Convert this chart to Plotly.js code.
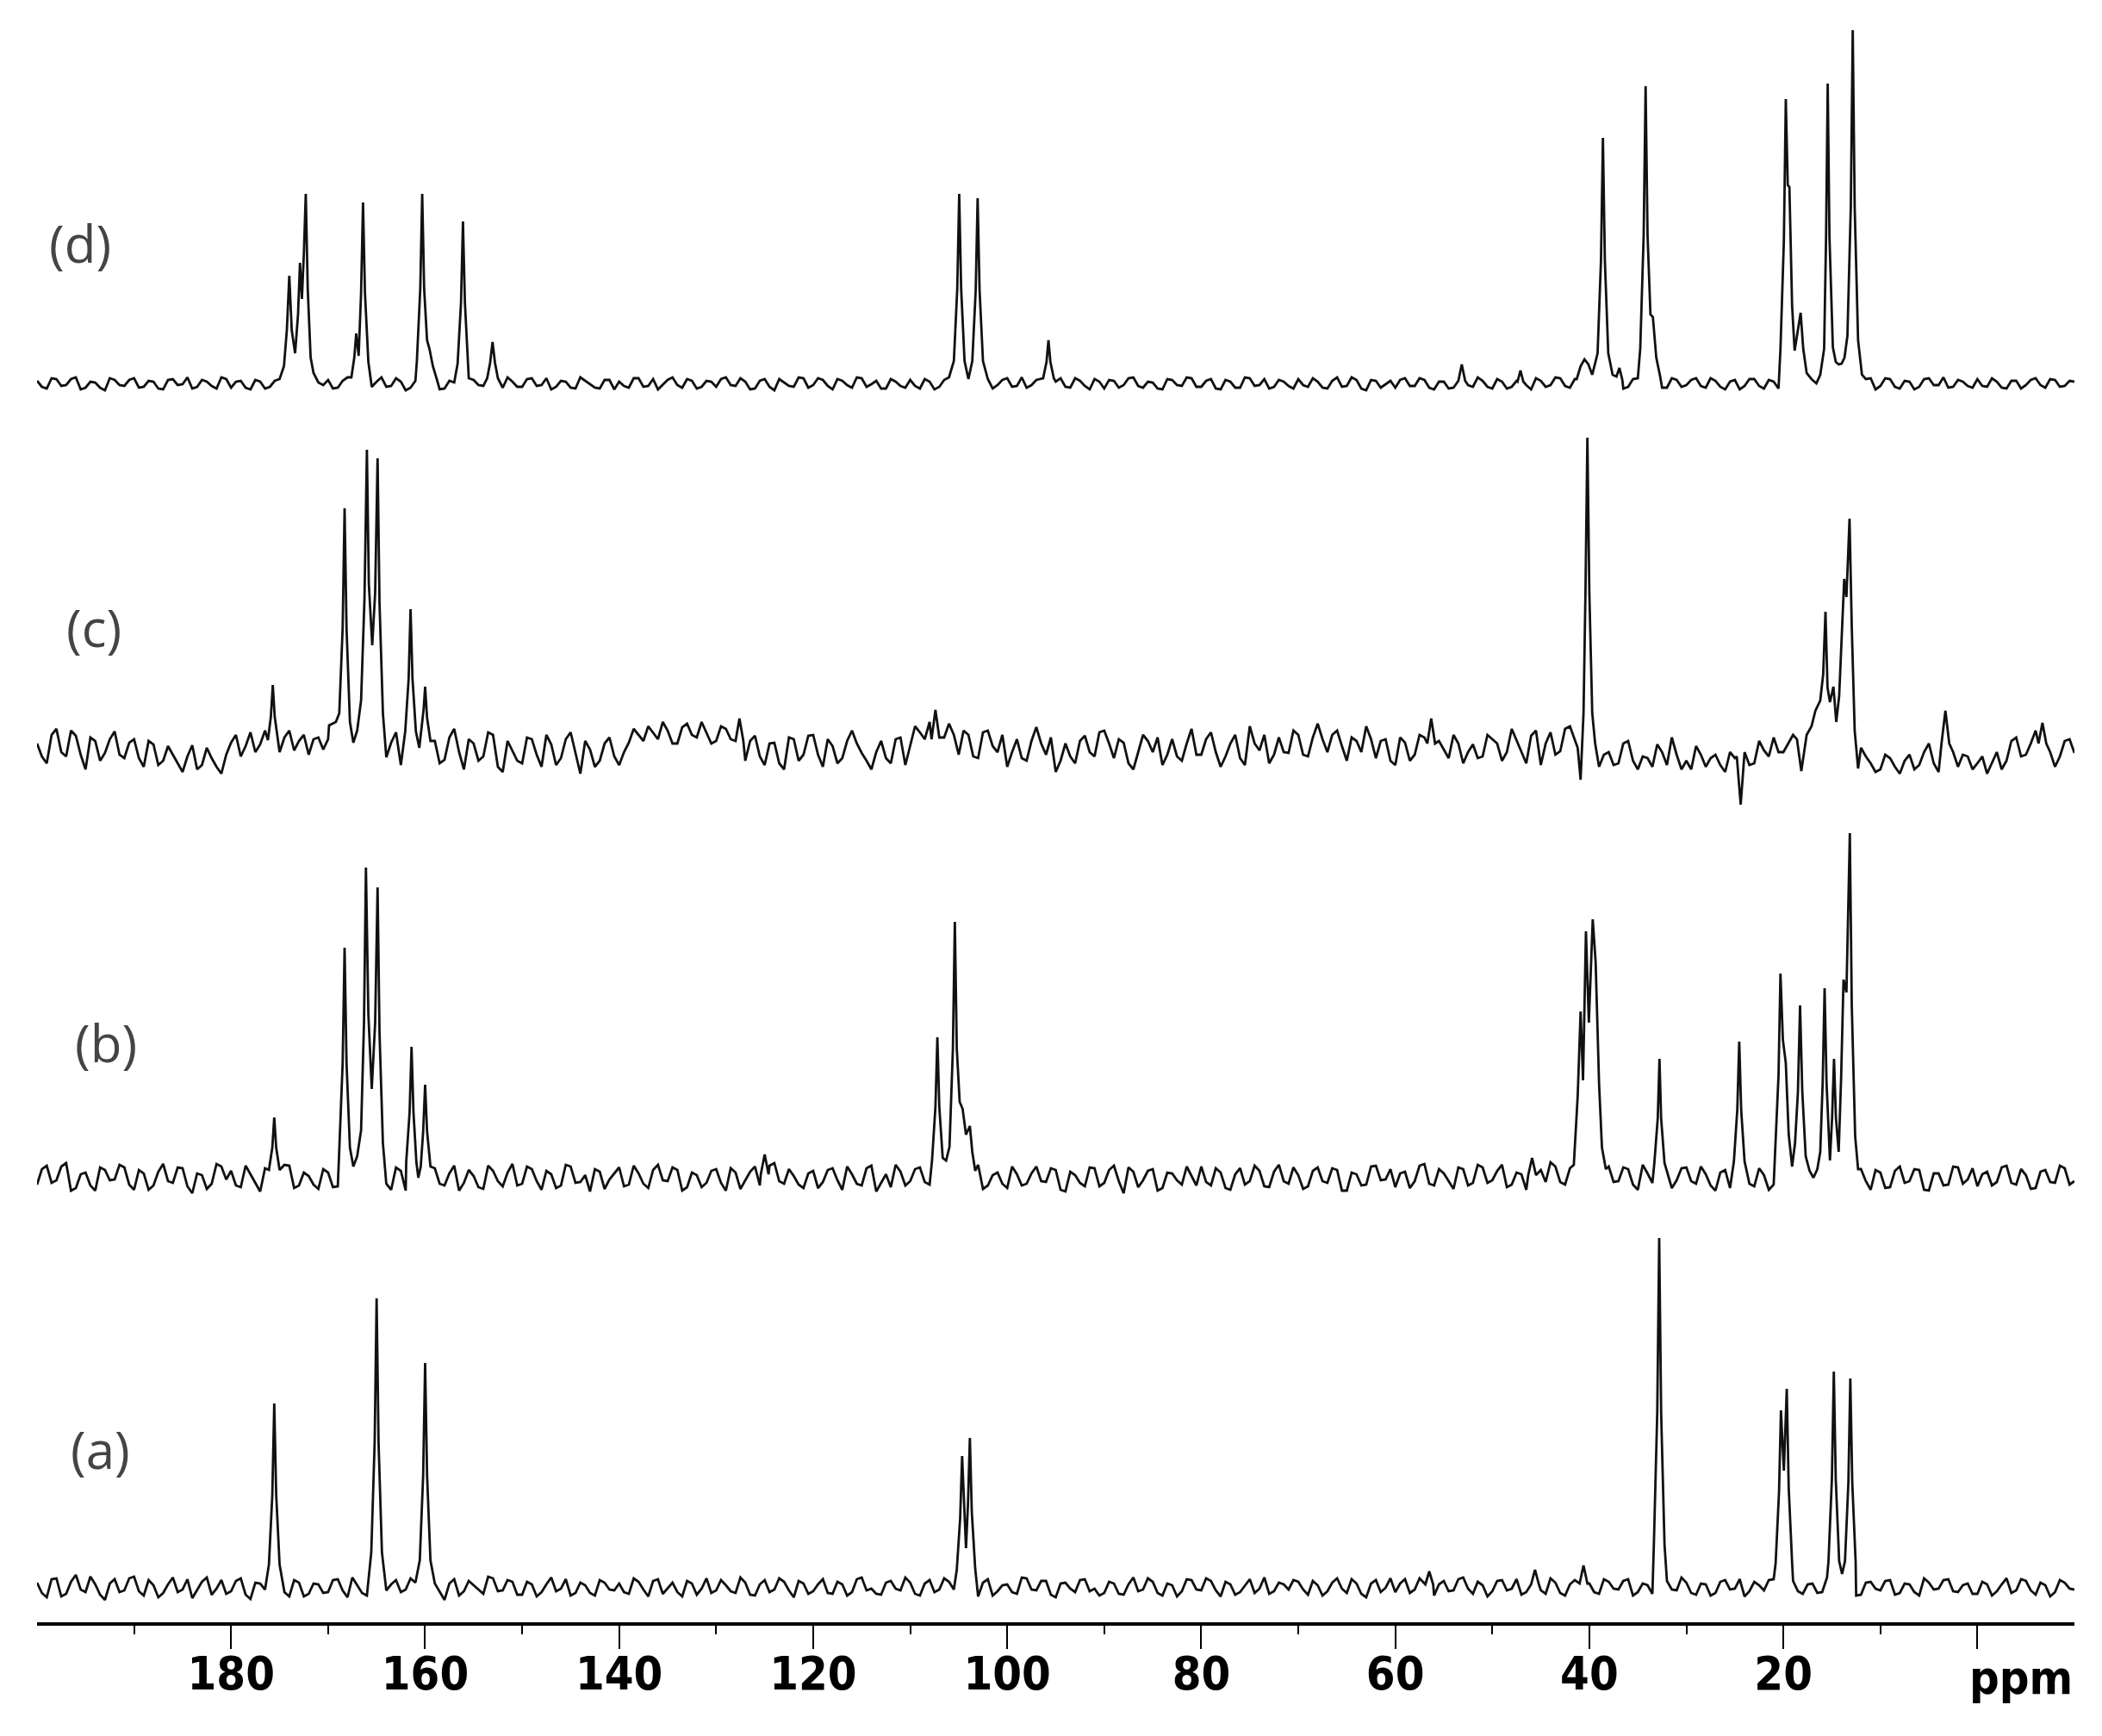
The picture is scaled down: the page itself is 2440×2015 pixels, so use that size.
<!DOCTYPE html>
<html>
<head>
<meta charset="utf-8">
<script src="https://cdn.plot.ly/plotly-3.0.1.min.js"></script>
<style>
  html, body { margin: 0; padding: 0; background: #fff; }
  #plot { width: 2440px; height: 2015px; }
</style>
</head>
<body>
<div id="plot"></div>
<script>
// --- ejes / etiquetas ---
const tick_vals = [180, 160, 140, 120, 100, 80, 60, 40, 20, 0];
const tick_text = ['180', '160', '140', '120', '100', '80', '60', '40', '20', ''];
const minor_vals = [190, 170, 150, 130, 110, 90, 70, 50, 30, 10];
const trace_names = ['(a)', '(b)', '(c)', '(d)'];

// baseline noise, one value per ppm from 200 down to -10 (px)
const a_noise = [
  5,-12,10,-8,14,-6,3,-15,9,-4,  12,-10,2,-7,11,-3,-13,6,-9,8,
  -5,10,-14,4,-2,7,-11,5,-8,3,   -6,9,-12,2,-10,6,-4,8,-3,5,
  -7,4,-15,9,-5,2,-8,10,-4,6,    -9,3,-6,11,-2,-10,5,-7,8,-3,
  4,-8,6,-11,9,-1,-6,7,-9,10,    -4,2,-7,5,-10,8,-3,6,-12,4,
  -5,9,-8,3,-6,11,-2,-9,7,-4,    5,-10,8,-3,6,-7,2,-11,9,-5,
  3,-8,10,-4,7,-12,5,-6,9,-2,    -7,4,-9,11,-3,6,-10,2,-5,8,
  -4,7,-11,3,-6,9,-2,-8,5,-3,    6,-9,2,-5,10,-7,4,-12,8,-1,
  -6,9,-3,5,-10,7,-4,11,-8,2,    -5,8,-2,-9,6,-4,10,-7,3,-5,
  4,-8,6,-3,9,-6,2,-10,7,-4,     5,-9,3,-7,8,-2,-11,6,-4,9,
  -3,7,-8,4,-6,10,-5,2,-9,6,     -4,8,-7,3,-10,5,-2,9,-6,4,
  -8,3,-5,10,-4,7,-9,2,-6,5,-3
];
// same, at the half-ppm points 199.5 ... -9.5
const a_half = [
  -7,9,-11,6,-3,12,-9,4,-6,10,   -5,8,-12,3,-6,9,-4,11,-2,-8,
  7,-9,5,-3,10,-6,8,-11,4,-7,    8,-4,11,-7,5,-9,3,-6,10,-2,
  9,-6,4,-10,7,-3,12,-5,8,-9,    6,-11,3,-5,9,-7,2,-10,5,-4,
  -6,10,-3,7,-8,5,-11,4,-2,-7,   8,-5,11,-9,3,-6,10,-4,7,-8,
  3,-7,6,-10,9,-4,-8,5,-2,11,    -8,4,-6,10,-3,9,-7,5,-10,2,
  -6,11,-3,7,-9,4,-2,8,-5,-10,   6,-8,3,-5,10,-7,4,-11,9,-3,
  10,-4,6,-9,2,-7,11,-5,3,8,     -3,7,-10,5,-2,9,-8,4,-6,10,
  4,-7,10,-8,3,-5,9,-2,6,-11,    7,-4,9,-6,2,-8,5,-10,8,-3,
  -6,9,-2,7,-10,4,-8,6,-3,11,    -7,4,-10,6,-3,9,-5,2,8,-6,
  9,-5,3,-7,11,-4,6,-10,5,-2,    7,-9,4,-6,10,-3,8,-5,2,-8,
  6,-10,3,-7,9,-4,5,-11,8,-2
];
const b_noise = [
  -8,14,-3,17,-12,6,-15,9,-2,12,   -14,5,-9,16,-6,11,-18,3,-7,13,
  8,-11,4,-16,10,-5,14,-9,2,-13,   6,-10,15,-4,-12,9,-7,12,-15,5,
  -3,11,-9,14,-6,2,-13,8,-10,16,   -7,10,-14,4,-9,13,-5,-16,7,-2,
  12,-8,5,-12,15,-4,9,-11,3,-6,    10,-15,6,-3,13,-10,17,-7,2,-12,
  8,-5,11,-14,4,-9,14,-6,-11,7,    -4,12,-8,5,-13,10,-3,15,-9,6,
  -12,4,-7,13,-5,9,-16,3,-10,11,   -6,14,-18,7,-3,10,-12,5,-8,2,
  13,-9,6,-14,11,-4,8,-11,15,-7,   3,-10,12,-6,9,-15,4,-8,14,-2,
  -11,7,-4,16,-9,5,-13,10,-6,12,   -3,15,-8,4,-12,9,18,-5,11,-7,
  6,-9,13,-4,10,-14,5,-11,8,-3,    12,-7,4,-15,9,-5,14,-10,3,-8,
  11,-6,15,-9,4,-12,8,-3,10,-14,   6,-11,13,-4,9,-15,5,-8,12,-2,
  -10,7,-5,14,-8,3,-12,9,-6,11,-4
];
const b_half = [
  10,-6,13,-15,4,-9,12,-3,15,-8,   9,-14,7,-4,12,-10,5,-13,16,-2,
  -9,14,-6,11,-3,15,-12,6,-8,10,   -11,7,-5,13,-9,4,-14,8,3,-10,
  12,-7,5,-15,9,-11,14,-4,6,-9,    13,-4,8,-12,15,-6,3,10,-13,5,
  -10,14,-7,9,-3,12,-15,6,-11,8,   -6,11,-13,7,-9,14,-4,10,-8,5,
  -12,9,-3,13,-7,11,-16,4,15,-9,   10,-5,14,-11,6,-8,12,-13,3,-7,
  13,-9,5,-4,11,-14,7,-6,12,-10,   9,-4,12,-11,8,-15,6,-3,13,-9,
  -5,11,-12,4,-8,14,-10,7,-4,12,   -13,8,-4,11,-15,6,-9,13,-3,10,
  5,-12,14,-7,10,-4,12,-9,15,-6,   8,-11,6,-14,9,-5,13,-8,4,-12,
  -10,7,-5,12,-8,15,-6,9,-12,11,   -4,13,-9,6,-12,10,-7,11,-14,5,
  -8,12,-5,14,-10,7,-13,6,-4,9,    -12,8,-6,10,-14,5,-9,13,-7,11,
  4,-9,12,-6,10,-13,7,-5,14,-8
];
const c_noise = [
  5,-18,22,-10,14,-25,8,-6,19,-12,   10,-22,4,-15,-8,-28,3,-20,-12,-30,
  6,-10,18,4,15,-5,20,8,-8,12,       10,15,20,5,-2,8,-12,18,-6,-15,
  -20,8,-14,22,-25,5,-10,15,-28,-3,  -18,10,-22,4,-12,18,-30,-2,-15,12,
  -20,6,15,25,10,20,5,28,12,18,      8,22,3,-15,14,-20,6,-25,10,-8,
  15,-22,2,-12,20,-6,-25,8,-18,12,   4,18,30,22,28,-8,15,-12,20,-5,
  -22,10,-15,24,-8,-28,5,-18,14,-10, 20,-12,6,-25,15,-5,-20,10,-15,22,
  -8,18,-22,5,-12,25,-3,-18,12,-6,   15,-10,28,-5,20,-15,8,25,-12,10,
  -20,6,-8,12,-25,-2,15,-18,4,-10,   10,-15,22,-6,14,-20,18,-4,25,-12,
  -10,-22,-5,-18,8,-25,-12,4,-20,-8, -15,2,-22,-8,-28,-12,5,-18,-3,12,
  -5,15,0,0,0,0,0,0,0,-18,           -25,-12,-30,-8,-20,5,-28,-15,-22,-10,
  -18,-30,-5,-15,12,-8,20,-12,-22,8,-6
];
const c_half = [
  -10,15,-5,20,-8,12,-15,10,-8,6,    -12,8,-20,2,-18,-10,-25,0,-22,-8,
  15,2,-5,20,10,12,-3,15,10,-2,      20,8,12,0,15,-8,6,-20,4,-22,
  6,-18,12,-5,10,-15,18,-22,8,-15,   12,-8,15,-20,10,-5,8,-22,5,-10,
  -5,22,8,18,30,5,24,15,30,5,        25,10,18,8,-10,5,-18,12,-15,14,
  -8,10,-18,8,5,-15,-5,-12,10,-20,   25,10,35,12,15,20,-10,18,2,15,
  -5,-12,8,5,12,-15,-10,8,-5,18,     5,10,-18,-5,8,12,-8,-10,5,-8,
  10,-5,-10,15,-20,5,15,-8,-5,20,    -8,12,10,15,2,12,-5,10,8,-15,
  12,-15,15,-10,8,-12,5,-5,-12,15,   5,-5,8,-18,20,5,-8,22,8,15,
  -10,-8,-20,5,-15,-10,-22,-5,12,-25, -25,-8,-12,-20,-5,-15,-20,8,-10,-5,
  5,10,0,0,0,0,0,0,-10,-28,          -8,-22,-15,-25,-5,-18,-10,-5,-8,-25,
  -10,-18,-25,8,-10,5,0,-5,-10,10
];
const d_noise = [
  3,-6,5,-2,7,-5,1,-8,4,-3,   6,-4,2,-7,5,-1,-6,4,-3,7,
  -5,3,-7,2,-4,6,-2,5,-6,1,   4,-5,7,-3,-6,2,-4,6,-8,3,
  -2,5,-6,1,-7,4,-3,8,-5,2,   -4,6,-2,-7,3,-5,7,-1,-6,4,
  2,-5,6,-3,-7,4,-2,5,-6,3,   -4,7,-3,2,-6,5,-8,1,-4,6,
  -2,4,-7,3,-5,6,-1,-6,5,-3,  4,-6,2,-4,7,-5,3,-7,5,-2,
  6,-3,-5,4,-7,2,-4,6,-3,5,   -6,3,-2,7,-5,1,-7,4,-3,6,
  -4,5,-7,2,-5,6,-2,-6,4,-3,  5,-4,2,-6,7,-3,4,-8,3,-1,
  -5,6,-3,4,-7,2,-5,7,-4,3,   -6,2,-4,5,-7,3,-2,6,-5,4,
  -3,5,-6,2,-4,6,-7,3,-5,4,   -2,6,-5,3,-7,4,-3,5,-6,2,
  -4,6,-3,5,-6,2,-5,7,-2,6,   -3,5,-6,2,-4,6,-2,-5,4,-3,
  5,-4,2,-6,3,-2,6,-5,4,-3,2
];
const d_half = [
  -4,6,-3,5,-7,2,-5,6,-2,4,   -5,3,-6,4,-2,7,-4,2,-6,5,
  2,-5,4,-6,3,-3,6,-4,5,-2,   -6,3,-2,5,-4,7,-3,2,-5,6,
  4,-7,3,-5,6,-2,5,-3,7,-4,   5,-3,6,-4,2,-6,3,-5,4,-7,
  -3,6,-4,5,-2,7,-5,3,-4,2,   5,-2,6,-7,3,-4,5,-3,7,-5,
  6,-3,5,-2,7,-4,3,-6,2,-5,   -3,5,-7,4,-2,6,-4,2,-6,4,
  -4,7,-2,5,-3,6,-5,3,-7,2,   4,-5,6,-3,2,-6,5,-2,7,-4,
  3,-6,4,-5,7,-3,5,-4,2,-6,   -2,6,-5,3,-4,7,-6,4,-5,3,
  4,-3,6,-5,2,-6,5,-2,7,-4,   5,-6,3,-2,6,-4,7,-3,5,-6,
  6,-2,4,-6,5,-3,2,-5,6,-4,   4,-3,6,-4,2,-7,5,-3,4,-6,
  5,-2,6,-4,3,-6,4,-3,5,-7,   6,-4,3,-7,5,-2,7,-4,2,-5,
  -3,6,-5,3,-6,4,-2,5,-4,3
];

// peak groups: ppm of each vertex and intensity above baseline (px)
const a_pk_ppm = [
  [176.1, 175.75, 175.55, 175.35, 175.0],
  [165.55, 165.2, 165.0, 164.8, 164.45],
  [160.55, 160.2, 160.0, 159.8, 159.45],
  [105.2, 104.85, 104.65, 104.45, 104.25, 104.05, 103.85, 103.65, 103.3],
  [56.9, 56.5, 56.1],
  [46.0, 45.6, 45.2],
  [41.0, 40.6, 40.2],
  [33.35, 33.0, 32.8, 32.6, 32.25],
  [20.8, 20.45, 20.25, 19.95, 19.65, 19.45, 19.1],
  [15.35, 15.0, 14.8, 14.6, 14.25, 13.95, 13.65, 13.3, 13.1, 12.9, 12.55]
];
const a_pk_int = [
  [26, 107, 213, 107, 26],
  [40, 168, 335, 168, 40],
  [31, 130, 260, 130, 31],
  [20, 80, 152, 90, 45, 95, 173, 87, 21],
  [3, 18, 3],
  [3, 20, 3],
  [4, 25, 4],
  [49, 203, 405, 203, 49],
  [27, 110, 205, 135, 230, 115, 28],
  [30, 125, 250, 125, 30, 15, 30, 121, 242, 121, 29]
];

const b_pk_ppm = [
  [176.1, 175.75, 175.55, 175.35, 175.0],
  [168.85, 168.5, 168.3, 168.1, 167.75, 167.4, 167.0, 166.6, 166.3, 166.1, 165.85, 165.5, 165.15, 164.9, 164.7, 164.35],
  [161.95, 161.6, 161.4, 161.2, 160.9, 160.7, 160.45, 160.2, 160.0, 159.8, 159.45],
  [125.4, 125.0, 124.6],
  [107.75, 107.4, 107.2, 107.0, 106.65, 106.3, 105.95, 105.6, 105.4, 105.2, 104.9, 104.6, 104.25, 103.85, 103.6, 103.3],
  [46.3, 45.9, 45.5],
  [41.6, 41.2, 40.9, 40.65, 40.35, 40.05, 39.65, 39.35, 39.0, 38.7, 38.3],
  [33.3, 32.95, 32.77, 32.6, 32.25],
  [25.1, 24.75, 24.55, 24.35, 24.0],
  [20.85, 20.5, 20.3, 20.05, 19.75, 19.45, 19.1, 18.8, 18.5, 18.28, 18.05, 17.7, 17.3, 16.9, 16.5, 16.2, 15.95, 15.75, 15.55, 15.2, 14.98, 14.78, 14.58, 14.3, 14.05, 13.8, 13.5, 13.15, 12.95, 12.6, 12.3]
];
const b_pk_int = [
  [9, 35, 70, 35, 9],
  [32, 133, 267, 133, 35, 13, 25, 55, 180, 360, 190, 103, 180, 337, 168, 40],
  [18, 76, 152, 76, 18, 0, 13, 54, 108, 54, 13],
  [4, 27, 4],
  [20, 82, 163, 82, 23, 20, 36, 150, 297, 150, 88, 80, 50, 60, 30, 8],
  [3, 23, 3],
  [15, 95, 193, 113, 286, 180, 300, 250, 110, 35, 10],
  [17, 69, 138, 69, 17],
  [19, 79, 158, 79, 19],
  [29, 119, 237, 160, 133, 50, 13, 40, 100, 200, 100, 25, 8, 0, 10, 30, 110, 220, 110, 20, 69, 138, 69, 30, 115, 230, 215, 400, 200, 48, 10]
];

const c_pk_ppm = [
  [176.2, 175.9, 175.7, 175.5, 175.2],
  [169.9, 169.2, 168.85, 168.5, 168.3, 168.1, 167.75, 167.4, 167.0, 166.6, 166.25, 166.0, 165.8, 165.45, 165.15, 164.9, 164.7, 164.35, 164.0],
  [162.05, 161.7, 161.5, 161.3, 160.95, 160.6, 160.4, 160.15, 160.0, 159.8, 159.45],
  [128.0, 127.6, 127.2],
  [107.8, 107.4, 107.0],
  [56.7, 56.3, 55.9],
  [41.2, 40.9, 40.6, 40.4, 40.2, 40.0, 39.7, 39.4],
  [24.8, 24.4, 24.0],
  [18.6, 18.15, 17.6, 17.1, 16.7, 16.2, 15.9, 15.66, 15.45, 15.2, 14.84, 14.55, 14.25, 13.95, 13.73, 13.5, 13.18, 12.95, 12.65, 12.3],
  [3.7, 3.3, 2.9],
  [-6.3, -6.7, -7.1]
];
const c_pk_int = [
  [9, 36, 73, 36, 9],
  [26, 30, 40, 139, 278, 139, 30, 6, 20, 55, 173, 346, 190, 119, 180, 336, 168, 40, -11],
  [19, 80, 161, 80, 19, 0, 20, 45, 71, 35, 8],
  [8, 34, 8],
  [10, 44, 12],
  [5, 34, 5],
  [0, -37, 40, 180, 360, 180, 40, 5],
  [-10, -66, -5],
  [10, -27, 15, 25, 43, 55, 85, 158, 70, 53, 71, 30, 60, 130, 196, 175, 266, 140, 20, -24],
  [5, 43, 5],
  [5, 29, 5]
];

const d_pk_ppm = [
  [175.0, 174.55, 174.25, 174.0, 173.75, 173.4, 173.1, 172.9, 172.7, 172.5, 172.3, 172.1, 171.8, 171.5],
  [167.6, 167.3, 167.1, 166.85, 166.6, 166.4, 166.2, 165.85],
  [160.85, 160.5, 160.3, 160.1, 159.8, 159.55, 159.2, 158.8],
  [156.65, 156.3, 156.1, 155.9, 155.55],
  [153.6, 153.3, 153.05, 152.8, 152.5],
  [105.5, 105.15, 104.95, 104.75, 104.4, 104.0, 103.6, 103.25, 103.05, 102.85, 102.5],
  [96.3, 95.95, 95.75, 95.55, 95.2],
  [53.5, 53.15, 52.8],
  [47.4, 47.1, 46.8],
  [41.3, 40.9, 40.5, 40.1, 39.7, 39.15, 38.8, 38.6, 38.4, 38.05, 37.6, 37.2, 36.9, 36.6],
  [34.75, 34.4, 34.2, 34.0, 33.7, 33.45, 33.1, 32.7],
  [20.3, 19.95, 19.75, 19.55, 19.38, 19.1, 18.84, 18.5, 18.22, 17.95, 17.6, 17.1, 16.6, 16.2, 15.8, 15.6, 15.43, 15.25, 14.9, 14.6, 14.3, 14.0, 13.7, 13.4, 13.05, 12.85, 12.65, 12.3, 11.9]
];
const d_pk_int = [
  [5, 20, 62, 125, 62, 35, 80, 140, 98, 150, 220, 110, 30, 12],
  [7, 30, 58, 32, 105, 210, 105, 25],
  [26, 110, 220, 110, 50, 40, 20, 5],
  [23, 94, 188, 94, 23],
  [6, 24, 48, 24, 6],
  [26, 110, 220, 110, 26, 5, 26, 108, 215, 108, 26],
  [6, 25, 50, 25, 6],
  [3, 22, 3],
  [2, 15, 2],
  [5, 20, 28, 22, 10, 35, 143, 285, 143, 35, 10, 8, 18, 4],
  [41, 172, 345, 172, 80, 77, 30, 8],
  [40, 165, 330, 230, 228, 90, 38, 60, 82, 40, 12, 5, 0, 10, 40, 170, 348, 170, 42, 25, 22, 23, 30, 55, 205, 410, 205, 50, 10]
];

// vertical baseline of each spectrum in the stack (y-axis units = px)
const baselines = [41, 516, 1015, 1438];

// label positions (ppm, stack height)
const label_x = [193.5, 192.9, 194.1, 195.6];
const label_y = [201, 673, 1155, 1601];

/**
 * Junta el ruido de línea base con los grupos de picos
 */
function buildSpectrum(noise, half, pkPpm, pkInt, offset) {
    const pts = [];
    const inPeak = p => pkPpm.some(g => p <= g[0] && p >= g[g.length - 1]);
    noise.forEach((v, i) => {
        const p = 200 - i;
        if (!inPeak(p)) pts.push([p, v]);
    });
    half.forEach((v, i) => {
        const p = 199.5 - i;
        if (!inPeak(p)) pts.push([p, v]);
    });
    pkPpm.forEach((g, k) => {
        g.forEach((p, j) => pts.push([p, pkInt[k][j]]));
    });
    pts.sort((u, w) => w[0] - u[0]);
    return {
        x: pts.map(q => q[0]),
        y: pts.map(q => q[1] + offset),
        mode: 'lines',
        type: 'scatter',
        line: { color: '#111', width: 2.8 },
        hoverinfo: 'skip',
        showlegend: false
    };
}

const traces = [
    buildSpectrum(a_noise, a_half, a_pk_ppm, a_pk_int, baselines[0]),
    buildSpectrum(b_noise, b_half, b_pk_ppm, b_pk_int, baselines[1]),
    buildSpectrum(c_noise, c_half, c_pk_ppm, c_pk_int, baselines[2]),
    buildSpectrum(d_noise, d_half, d_pk_ppm, d_pk_int, baselines[3])
];

const axisFont = 'Liberation Sans Narrow, DejaVu Sans Condensed, Liberation Sans, sans-serif';

const annotations = trace_names.map((t, i) => ({
    text: t,
    x: label_x[i], y: label_y[i],
    xref: 'x', yref: 'y',
    xanchor: 'center', yanchor: 'middle',
    showarrow: false,
    font: { family: 'Open Sans, sans-serif', size: 60, color: '#444' }
}));

annotations.push({
    text: 'ppm',
    x: 1, y: -0.034,
    xref: 'paper', yref: 'paper',
    xanchor: 'right', yanchor: 'middle',
    showarrow: false,
    font: { family: axisFont, size: 54, color: '#000', weight: 'bold' }
});

const layout = {
    width: 2440,
    height: 2015,
    margin: { l: 43, r: 32, t: 0, b: 132 },
    paper_bgcolor: '#fff',
    plot_bgcolor: '#fff',
    showlegend: false,
    xaxis: {
        range: [200, -10],
        showline: true,
        linecolor: '#000',
        linewidth: 4,
        ticks: 'outside',
        ticklen: 27,
        tickwidth: 2,
        tickcolor: '#000',
        tickvals: tick_vals,
        ticktext: tick_text,
        ticklabelstandoff: -18,
        tickfont: { family: axisFont, size: 54, color: '#000', weight: 'bold' },
        minor: { tickvals: minor_vals, ticks: 'outside', ticklen: 10, tickwidth: 2, tickcolor: '#000', showgrid: false },
        showgrid: false,
        zeroline: false,
        fixedrange: true
    },
    yaxis: {
        range: [0, 1883],
        visible: false,
        showgrid: false,
        zeroline: false,
        fixedrange: true
    },
    annotations: annotations
};

Plotly.newPlot('plot', traces, layout, { staticPlot: true });
</script>
</body>
</html>
